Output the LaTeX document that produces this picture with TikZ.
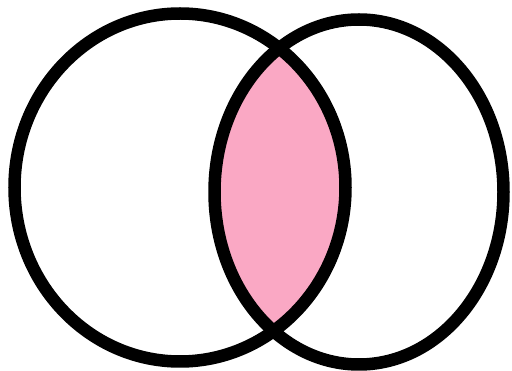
\documentclass[tikz,border=0pt]{standalone}
\definecolor{lenspink}{RGB}{250,168,196}
\tikzset{ring/.style={draw=black,line width=12.5pt}}
\begin{document}
\begin{tikzpicture}[x=1pt,y=-1pt]
\useasboundingbox (0,0) rectangle (512,371);
\fill[white] (0,0) rectangle (512,371);
\begin{scope}
\clip (180,187.5) ellipse [x radius=165.5, y radius=174];
\fill[lenspink] (359,192) ellipse [x radius=144.5, y radius=172.5];
\end{scope}
\draw[ring] (180,187.5) ellipse [x radius=165.5, y radius=174];
\draw[ring] (359,192) ellipse [x radius=144.5, y radius=172.5];
\end{tikzpicture}
\end{document}
